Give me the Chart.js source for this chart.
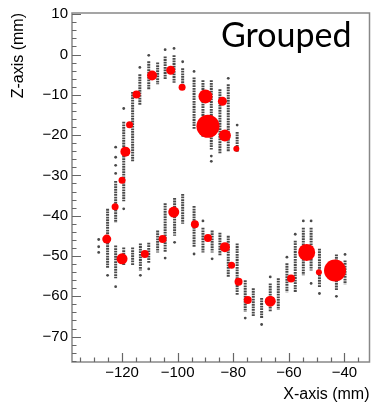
<!DOCTYPE html>
<html lang="en">

<head>
  <title></title>
  <meta charset="UTF-8">
  <meta name="viewport" content="width=device-width, initial-scale=1">
  <script src="https://cdn.jsdelivr.net/npm/chart.js@4.4.1/dist/chart.umd.min.js"></script>
  <style>
    body { margin: 0; background: #fff; }
  </style>
</head>

<body>
  <canvas id="myChart" width="381" height="410"></canvas>
  <script>
    // hit strips: x position and z extent of each column of hits
    const hitX = [-122.3, -119.4, -116.2, -113.6, -110.4, -107.2, -104.5, -101.3, -98.2, -94.1, -90.9, -87.9, -84.8, -81.8, -78.6,
      -125.2, -122.3, -119.4, -116.2, -113.4, -110.4, -107.2, -104.5, -101.1, -98.2, -94.1, -90.9, -87.6, -84.8, -81.8, -78.6,
      -75.7, -72.8, -69.8, -66.7, -63.8, -60.7, -57.7, -54.8, -52.0, -49.0, -42.9, -39.8];
    const hitTop = [-31.4, -16.7, -9.3, -4.9, -1.7, -2.0, -0.5, -0.2, -3.4, -5.7, -6.4, -6.4, -8.6, -7.4, -19.2,
      -38.3, -47.4, -47.9, -47.9, -46.9, -46.7, -43.7, -36.9, -35.6, -34.6, -37.6, -43.0, -43.7, -44.2, -45.0, -46.9,
      -56.0, -58.0, -60.4, -56.8, -55.5, -51.8, -46.2, -43.0, -43.0, -48.2, -49.6, -51.1];
    const hitBottom = [-41.8, -36.4, -26.5, -12.5, -8.6, -7.4, -6.1, -7.0, -8.8, -18.4, -20.4, -23.6, -24.6, -24.1, -24.1,
      -53.1, -55.5, -52.3, -52.3, -53.6, -51.8, -49.1, -49.1, -45.0, -42.0, -47.9, -49.1, -49.1, -49.9, -55.3, -59.7,
      -63.9, -65.1, -65.4, -63.9, -63.4, -59.0, -59.0, -54.8, -53.6, -57.7, -58.5, -57.0];

    // isolated hits away from the strips
    const strayX = [-128.4, -128.4, -128.4, -122.3, -122.3, -122.3, -122.3, -119.4, -119.4, -113.6, -110.4, -104.5, -101.3, -98.2,
      -94.1, -81.8, -78.6, -87.9, -87.9, -125.2, -122.3, -113.4, -110.4, -104.5, -101.1, -94.1, -90.9, -87.6,
      -75.7, -69.8, -66.7, -60.7, -57.7, -54.8, -52.0, -52.0, -49.0, -42.9, -39.8];
    const strayZ = [-45.9, -47.7, -49.1, -23.0, -25.5, -27.5, -29.5, -13.4, -38.3, -3.2, -0.2, 1.2, 1.5, -1.8,
      -4.2, -5.9, -17.5, -25.2, -26.5, -54.8, -57.6, -54.8, -53.2, -50.5, -46.6, -49.5, -41.3, -50.7,
      -65.4, -67.0, -55.2, -50.3, -44.6, -41.3, -41.3, -56.8, -59.3, -60.0, -49.6];

    // grouped clusters: position and marker size
    const clusterX = [-122.5, -120.0, -118.8, -117.3, -114.8, -109.2, -102.5, -98.4, -90.0, -89.1, -83.9, -83.0, -78.9,
      -125.5, -120.0, -111.8, -105.4, -101.4, -93.8, -89.1, -83.0, -80.6, -78.1, -74.8, -66.7, -59.2, -53.6, -49.2, -43.4];
    const clusterZ = [-37.8, -31.2, -24.1, -17.4, -9.9, -5.2, -3.9, -8.1, -10.4, -17.8, -11.6, -20.1, -23.4,
      -45.8, -50.7, -49.5, -45.8, -39.1, -42.1, -45.5, -47.8, -52.3, -56.4, -60.9, -61.2, -55.6, -49.1, -54.0, -53.6];
    const clusterSize = [3.5, 3.5, 5, 3.5, 4, 5, 4.5, 3.5, 7, 11.5, 4.5, 6, 3,
      4.5, 5.5, 4, 4, 5.5, 4, 4, 5, 3.5, 4, 4, 5.5, 4, 8.5, 3, 11];

    const xTicks = [-120, -100, -80, -60, -40];
    const zTicks = [10, 0, -10, -20, -30, -40, -50, -60, -70];

    const strips = [];
    hitX.forEach((x, i) => {
      strips.push({ x: x, y: hitTop[i] }, { x: x, y: hitBottom[i] }, { x: x, y: null });
    });
    const strays = strayX.map((x, i) => ({ x: x, y: strayZ[i] }));
    const clusters = clusterX.map((x, i) => ({ x: x, y: clusterZ[i] }));

    const minus = v => String(v).replace('-', '\u2212');
    const AXIS = '#666';

    // ROOT-like frame with inward major and minor ticks, plus the label
    const frame = {
      id: 'frame',
      afterDatasetsDraw(chart) {
        const { ctx, chartArea: a, scales: { x, y } } = chart;
        ctx.save();
        ctx.strokeStyle = '#888';
        ctx.lineWidth = 1.5;
        ctx.strokeRect(a.left, a.top, a.right - a.left, a.bottom - a.top);
        ctx.strokeStyle = AXIS;
        ctx.lineWidth = 1.2;
        ctx.beginPath();
        for (let v = -135; v <= x.max; v += 5) {
          const px = Math.round(x.getPixelForValue(v)) + 0.5;
          const len = v % 20 === 0 ? 9 : 4.5;
          ctx.moveTo(px, a.bottom);
          ctx.lineTo(px, a.bottom - len);
        }
        for (let v = -76; v <= y.max; v += 2) {
          const py = Math.round(y.getPixelForValue(v)) + 0.5;
          const len = v % 10 === 0 ? 9 : 4.5;
          ctx.moveTo(a.left, py);
          ctx.lineTo(a.left + len, py);
        }
        ctx.stroke();
        ctx.fillStyle = '#000';
        ctx.font = '34px Lato';
        ctx.textAlign = 'right';
        ctx.textBaseline = 'alphabetic';
        ctx.fillText('Grouped', a.right - 18, 47);
        ctx.restore();
      }
    };

    new Chart('myChart', {
      type: 'scatter',
      data: {
        datasets: [{
          data: clusters,
          order: 0,
          backgroundColor: '#ff0000',
          borderWidth: 0,
          pointRadius: clusterSize,
          pointHoverRadius: clusterSize
        }, {
          data: strays,
          order: 1,
          backgroundColor: '#4a4a4a',
          borderWidth: 0,
          pointRadius: 1.4
        }, {
          data: strips,
          order: 2,
          showLine: true,
          spanGaps: false,
          borderColor: '#4a4a4a',
          borderWidth: 3,
          borderDash: [1.8, 0.8],
          pointRadius: 0
        }]
      },
      options: {
        responsive: false,
        animation: false,
        layout: { padding: { top: 10, right: 3, left: 0, bottom: 0 } },
        plugins: { legend: { display: false }, tooltip: { enabled: false } },
        scales: {
          x: {
            type: 'linear',
            min: -138,
            max: -31,
            afterBuildTicks: s => { s.ticks = xTicks.map(v => ({ value: v })); },
            afterFit: s => { s.height = 48; },
            grid: { display: false, drawTicks: false },
            border: { display: false },
            ticks: {
              padding: 2,
              color: '#000',
              font: { family: 'Liberation Sans', size: 15 },
              callback: minus
            },
            title: {
              display: true,
              text: 'X-axis (mm)',
              align: 'end',
              color: '#000',
              font: { family: 'Liberation Sans', size: 16 },
              padding: { top: 0, bottom: 6 }
            }
          },
          y: {
            type: 'linear',
            min: -76.3,
            max: 10.3,
            afterBuildTicks: s => { s.ticks = zTicks.map(v => ({ value: v })); },
            afterFit: s => { s.width = 72; },
            grid: { display: false, drawTicks: false },
            border: { display: false },
            ticks: {
              padding: 4,
              color: '#000',
              font: { family: 'Liberation Sans', size: 15 },
              callback: minus
            },
            title: {
              display: true,
              text: 'Z-axis (mm)',
              align: 'end',
              color: '#000',
              font: { family: 'Liberation Sans', size: 16 },
              padding: { top: 9, bottom: 0 }
            }
          }
        }
      },
      plugins: [frame]
    });
  </script>
</body>

</html>
